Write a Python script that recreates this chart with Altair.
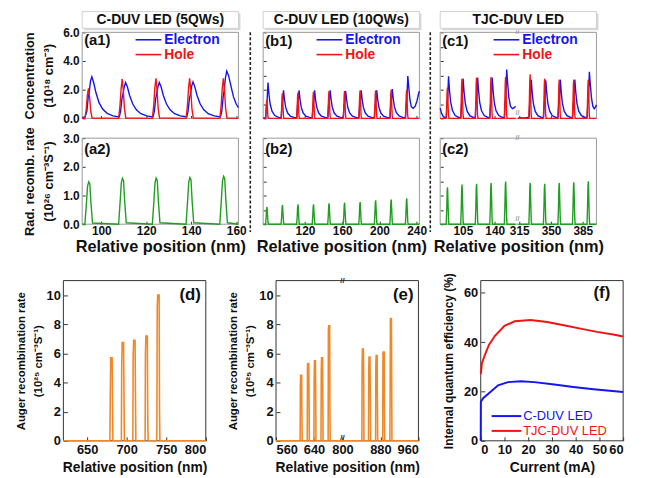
import altair as alt
import pandas as pd

FONT = "Liberation Sans"
BLUE = "#1414F2"
RED = "#F21414"
GREEN = "#1F9E1F"
ORANGE = "#F0882A"
FRAME_TOP = "#9a9a9a"
FRAME_BOT = "#333333"

# ---------------- (a) C-DUV LED, 5 QWs ----------------
A1_E_X = [91.5, 92.8, 93.6, 94.2, 94.6, 95.2, 95.8, 96.6, 97.6, 99.0, 100.6, 102.6, 105.2, 108.0,
          108.6, 109.2, 109.6, 110.2, 110.8, 111.6, 112.6, 114.0, 115.6, 117.6, 120.2, 123.0,
          123.6, 124.2, 124.6, 125.2, 125.8, 126.6, 127.6, 129.0, 130.6, 132.6, 135.2, 138.0,
          138.6, 139.2, 139.6, 140.2, 140.8, 141.6, 142.6, 144.0, 145.6, 147.6, 150.2, 153.0,
          153.6, 154.2, 154.6, 155.2, 155.8, 156.6, 157.6, 158.8, 160.0, 161.0]
A1_E_Y = [0.05, 0.1, 0.5, 1.5, 1.8, 2.6, 2.9, 2.5, 1.8, 1.1, 0.65, 0.35, 0.17, 0.1,
          0.5, 1.4, 1.65, 2.2, 2.5, 2.2, 1.6, 1.0, 0.6, 0.33, 0.17, 0.1,
          0.5, 1.4, 1.65, 2.2, 2.5, 2.2, 1.6, 1.0, 0.6, 0.33, 0.17, 0.1,
          0.5, 1.4, 1.65, 2.25, 2.55, 2.2, 1.6, 1.0, 0.6, 0.33, 0.17, 0.1,
          0.5, 1.5, 1.9, 2.8, 3.3, 3.0, 2.3, 1.5, 1.0, 0.75]
A1_H_X = [91.5, 92.7, 93.3, 93.8, 94.3, 94.8, 95.3, 95.9,
          107.7, 108.3, 108.8, 109.3, 109.8, 110.3, 110.9,
          122.7, 123.3, 123.8, 124.3, 124.8, 125.3, 125.9,
          137.7, 138.3, 138.8, 139.3, 139.8, 140.3, 140.9,
          152.7, 153.3, 153.8, 154.3, 154.8, 155.3, 155.9, 161.0]
A1_H_Y = [0, 0, 0.65, 1.6, 2.1, 1.5, 0.5, 0.03,
          0, 0.85, 2.05, 2.75, 1.95, 0.7, 0.03,
          0, 0.85, 2.1, 2.8, 2.0, 0.7, 0.03,
          0, 0.85, 2.1, 2.8, 2.0, 0.7, 0.03,
          0, 0.85, 2.1, 2.8, 2.0, 0.7, 0.03, 0]
A2_R_X = [91.5, 92.7, 93.4, 93.9, 94.4, 94.9, 95.4, 96.1,
          107.7, 108.4, 108.9, 109.4, 109.9, 110.4, 111.1,
          122.7, 123.4, 123.9, 124.4, 124.9, 125.4, 126.1,
          137.7, 138.4, 138.9, 139.4, 139.9, 140.4, 141.1,
          152.7, 153.4, 153.9, 154.4, 154.9, 155.4, 156.1, 161.0]
A2_R_Y = [0, 0, 0.74, 1.33, 1.48, 1.41, 0.74, 0.04,
          0, 0.8, 1.44, 1.6, 1.52, 0.8, 0.05,
          0, 0.8, 1.45, 1.61, 1.53, 0.8, 0.05,
          0, 0.82, 1.47, 1.63, 1.55, 0.82, 0.05,
          0, 0.84, 1.5, 1.67, 1.59, 0.84, 0.05, 0]
A_DOM = [91.5, 161.0]
A_TICKS = [100, 120, 140, 160]

# ---------------- (b) C-DUV LED, 10 QWs ----------------
B1_E_X = [75, 77.8, 78.5, 79.2, 80.2, 81.2, 82.5, 84.5, 87.5, 92,
          94.5, 95.2, 95.9, 96.9, 97.9, 99.2, 101.2, 104.2, 108.7,
          111.2, 111.9, 112.6, 113.6, 114.6, 115.9, 117.9, 120.9, 125.4,
          127.9, 128.6, 129.3, 130.3, 131.3, 132.6, 134.6, 137.6, 142.1,
          144.6, 145.3, 146.0, 147.0, 148.0, 149.3, 151.3, 154.3, 158.8,
          161.3, 162.0, 162.7, 163.7, 164.7, 166.0, 168.0, 171.0, 175.5,
          178.0, 178.7, 179.4, 180.4, 181.4, 182.7, 184.7, 187.7, 192.2,
          194.7, 195.4, 196.1, 197.1, 198.1, 199.4, 201.4, 204.4, 208.9,
          211.4, 212.1, 212.8, 213.8, 214.8, 216.1, 218.1, 221.1, 225.6,
          228.1, 228.8, 229.5, 230.5, 231.5, 232.8, 234.3, 236.3, 238.5, 240.5, 242.2, 243.0]
B1_E_Y = [0.02, 0.05, 0.9, 1.2, 2.5, 1.7, 1.0, 0.5, 0.2, 0.05,
          0.05, 0.9, 1.15, 1.95, 1.33, 0.78, 0.39, 0.16, 0.05,
          0.05, 0.9, 1.15, 1.95, 1.33, 0.78, 0.39, 0.16, 0.05,
          0.05, 0.9, 1.15, 1.95, 1.33, 0.78, 0.39, 0.16, 0.05,
          0.05, 0.9, 1.15, 1.95, 1.33, 0.78, 0.39, 0.16, 0.05,
          0.05, 0.9, 1.15, 1.9, 1.3, 0.76, 0.38, 0.16, 0.05,
          0.05, 0.9, 1.15, 1.95, 1.33, 0.78, 0.39, 0.16, 0.05,
          0.05, 0.9, 1.15, 1.95, 1.33, 0.78, 0.39, 0.16, 0.05,
          0.05, 0.95, 1.2, 2.05, 1.4, 0.82, 0.41, 0.17, 0.05,
          0.05, 1.0, 1.3, 2.95, 2.2, 1.3, 0.8, 0.7, 0.85, 1.25, 1.75, 1.9]
B1_H_X = [75, 77.5, 78.1, 78.6, 79.0, 79.5, 80.1, 80.6,
          94.2, 94.8, 95.3, 95.7, 96.2, 96.8, 97.3,
          110.9, 111.5, 112.0, 112.4, 112.9, 113.5, 114.0,
          127.6, 128.2, 128.7, 129.1, 129.6, 130.2, 130.7,
          144.3, 144.9, 145.4, 145.8, 146.3, 146.9, 147.4,
          161.0, 161.6, 162.1, 162.5, 163.0, 163.6, 164.1,
          177.7, 178.3, 178.8, 179.2, 179.7, 180.3, 180.8,
          194.4, 195.0, 195.5, 195.9, 196.4, 197.0, 197.5,
          211.1, 211.7, 212.2, 212.6, 213.1, 213.7, 214.2,
          227.8, 228.4, 228.9, 229.3, 229.8, 230.4, 230.9, 243.0]
B1_H_Y = [0, 0, 0.45, 1.1, 1.3, 0.8, 0.13, 0,
          0, 0.6, 1.5, 1.75, 1.05, 0.18, 0,
          0, 0.63, 1.53, 1.8, 1.08, 0.18, 0,
          0, 0.65, 1.57, 1.85, 1.1, 0.19, 0,
          0, 0.66, 1.6, 1.9, 1.14, 0.19, 0,
          0, 0.66, 1.6, 1.9, 1.14, 0.19, 0,
          0, 0.68, 1.65, 1.95, 1.17, 0.2, 0,
          0, 0.68, 1.65, 1.95, 1.17, 0.2, 0,
          0, 0.7, 1.7, 2.0, 1.2, 0.2, 0,
          0, 0.7, 1.7, 2.0, 1.2, 0.2, 0, 0]
B2_R_X = [75, 77.6, 78.2, 78.7, 79.1, 79.6, 80.2, 80.6,
          94.3, 94.9, 95.4, 95.8, 96.3, 96.9, 97.3,
          111.0, 111.6, 112.1, 112.5, 113.0, 113.6, 114.0,
          127.7, 128.3, 128.8, 129.2, 129.7, 130.3, 130.7,
          144.4, 145.0, 145.5, 145.9, 146.4, 147.0, 147.4,
          161.1, 161.7, 162.2, 162.6, 163.1, 163.7, 164.1,
          177.8, 178.4, 178.9, 179.3, 179.8, 180.4, 180.8,
          194.5, 195.1, 195.6, 196.0, 196.5, 197.1, 197.5,
          211.2, 211.8, 212.3, 212.7, 213.2, 213.8, 214.2,
          227.9, 228.5, 229.0, 229.4, 229.9, 230.5, 230.9, 243.0]
B2_R_Y = [0, 0, 0.24, 0.54, 0.6, 0.36, 0.06, 0,
          0, 0.27, 0.6, 0.67, 0.4, 0.07, 0,
          0, 0.28, 0.62, 0.69, 0.41, 0.07, 0,
          0, 0.28, 0.62, 0.69, 0.41, 0.07, 0,
          0, 0.29, 0.66, 0.73, 0.44, 0.07, 0,
          0, 0.3, 0.68, 0.75, 0.45, 0.08, 0,
          0, 0.31, 0.69, 0.77, 0.46, 0.08, 0,
          0, 0.33, 0.75, 0.83, 0.5, 0.08, 0,
          0, 0.34, 0.77, 0.86, 0.52, 0.09, 0,
          0, 0.36, 0.81, 0.9, 0.54, 0.09, 0, 0]
B_DOM = [75, 243]
B_TICKS = [120, 160, 200, 240]

# ---------------- (c) TJC-DUV LED (broken axis) ----------------
C1_E_X = [80, 81.5, 83.5, 85.5,
          86.8, 87.5, 88.2, 89.2, 90.2, 91.5, 93.5, 96.5, 101,
          102.8, 103.5, 104.2, 105.2, 106.2, 107.5, 109.5, 112.5, 117,
          118.8, 119.5, 120.2, 121.2, 122.2, 123.5, 125.5, 128.5, 133,
          134.8, 135.5, 136.2, 137.2, 138.2, 139.5, 141.5, 144.5, 149,
          150.8, 151.5, 152.2, 153.2, 154.2, 155.5, 157.3, 159.5, 161.5, 163,
          314, 322,
          325.8, 326.5, 327.2, 328.2, 329.2, 330.5, 332.5, 335.5, 340,
          341.8, 342.5, 343.2, 344.2, 345.2, 346.5, 348.5, 351.5, 356,
          357.8, 358.5, 359.2, 360.2, 361.2, 362.5, 364.5, 367.5, 372,
          373.8, 374.5, 375.2, 376.2, 377.2, 378.5, 380.5, 383.5, 388,
          389.8, 390.5, 391.2, 392.2, 393.2, 394.5, 396, 397.5, 399, 400]
C1_E_Y = [0.72, 0.35, 0.12, 0.05,
          0.08, 1.0, 1.3, 2.93, 2.0, 1.15, 0.55, 0.2, 0.05,
          0.08, 1.0, 1.3, 2.77, 1.9, 1.1, 0.52, 0.19, 0.05,
          0.08, 1.0, 1.3, 2.84, 1.95, 1.12, 0.53, 0.2, 0.05,
          0.08, 1.0, 1.3, 2.84, 1.95, 1.12, 0.53, 0.2, 0.05,
          0.08, 1.1, 1.4, 3.4, 2.5, 1.5, 0.85, 0.68, 0.75, 0.85,
          0.03, 0.03,
          0.08, 1.0, 1.25, 2.7, 1.85, 1.07, 0.5, 0.19, 0.05,
          0.08, 1.0, 1.25, 2.66, 1.82, 1.05, 0.5, 0.18, 0.05,
          0.08, 1.0, 1.25, 2.7, 1.85, 1.07, 0.5, 0.19, 0.05,
          0.08, 1.0, 1.25, 2.7, 1.85, 1.07, 0.5, 0.19, 0.05,
          0.08, 1.1, 1.35, 3.25, 2.4, 1.45, 0.85, 0.68, 0.8, 0.95]
C1_H_X = [80, 86.5, 87.1, 87.6, 88.0, 88.5, 89.1, 89.6,
          102.5, 103.1, 103.6, 104.0, 104.5, 105.1, 105.6,
          118.5, 119.1, 119.6, 120.0, 120.5, 121.1, 121.6,
          134.5, 135.1, 135.6, 136.0, 136.5, 137.1, 137.6,
          150.5, 151.1, 151.6, 152.0, 152.5, 153.1, 153.6, 163,
          314, 325.5, 326.1, 326.6, 327.0, 327.5, 328.1, 328.6,
          341.5, 342.1, 342.6, 343.0, 343.5, 344.1, 344.6,
          357.5, 358.1, 358.6, 359.0, 359.5, 360.1, 360.6,
          373.5, 374.1, 374.6, 375.0, 375.5, 376.1, 376.6,
          389.5, 390.1, 390.6, 391.0, 391.5, 392.1, 392.6, 400]
C1_H_Y = [0, 0, 0.75, 1.83, 2.15, 1.29, 0.22, 0,
          0, 0.97, 2.35, 2.77, 1.66, 0.28, 0,
          0, 0.99, 2.41, 2.84, 1.7, 0.28, 0,
          0, 1.01, 2.46, 2.89, 1.73, 0.29, 0,
          0, 1.01, 2.46, 2.89, 1.73, 0.29, 0, 0,
          0, 0, 1.07, 2.61, 3.07, 1.84, 0.31, 0,
          0, 0.97, 2.35, 2.77, 1.66, 0.28, 0,
          0, 0.95, 2.3, 2.7, 1.62, 0.27, 0,
          0, 0.95, 2.3, 2.7, 1.62, 0.27, 0,
          0, 0.95, 2.3, 2.7, 1.62, 0.27, 0, 0]
C2_R_X = [80, 86.6, 87.2, 87.7, 88.1, 88.6, 89.2, 89.6,
          102.6, 103.2, 103.7, 104.1, 104.6, 105.2, 105.6,
          118.6, 119.2, 119.7, 120.1, 120.6, 121.2, 121.6,
          134.6, 135.2, 135.7, 136.1, 136.6, 137.2, 137.6,
          150.6, 151.2, 151.7, 152.1, 152.6, 153.2, 153.6, 163,
          314, 325.6, 326.2, 326.7, 327.1, 327.6, 328.2, 328.6,
          341.6, 342.2, 342.7, 343.1, 343.6, 344.2, 344.6,
          357.6, 358.2, 358.7, 359.1, 359.6, 360.2, 360.6,
          373.6, 374.2, 374.7, 375.1, 375.6, 376.2, 376.6,
          389.6, 390.2, 390.7, 391.1, 391.6, 392.2, 392.6, 400]
C2_R_Y = [0, 0, 0.52, 1.16, 1.29, 0.77, 0.13, 0,
          0, 0.55, 1.24, 1.38, 0.83, 0.14, 0,
          0, 0.56, 1.27, 1.41, 0.85, 0.14, 0,
          0, 0.58, 1.3, 1.44, 0.86, 0.14, 0,
          0, 0.6, 1.34, 1.49, 0.89, 0.15, 0, 0,
          0, 0, 0.58, 1.3, 1.44, 0.86, 0.14, 0,
          0, 0.56, 1.27, 1.41, 0.85, 0.14, 0,
          0, 0.58, 1.3, 1.44, 0.86, 0.14, 0,
          0, 0.58, 1.31, 1.46, 0.88, 0.15, 0,
          0, 0.6, 1.35, 1.5, 0.9, 0.15, 0, 0]
C_SPLIT = 250          # real positions above this lie right of the break
C_GAP = 148            # nm removed by the axis break
C_DOM = [80, 252]      # display domain
C_TICKS = [105, 140, 167, 202, 237]
C_BREAK = [165]

# ---------------- (d) Auger, C-DUV 5QWs ----------------
D_X = [620, 678.8, 679.2, 679.8, 681.6, 682.1, 682.6,
       693.3, 693.7, 694.3, 696.1, 696.6, 697.1,
       707.8, 708.2, 708.8, 710.6, 711.1, 711.6,
       723.3, 723.7, 724.3, 726.1, 726.6, 727.1,
       737.8, 738.2, 738.6, 739.2, 741.0, 741.5, 742.0, 800]
D_Y = [0, 0, 2.5, 5.7, 5.7, 2.7, 0,
       0, 5.0, 6.75, 6.75, 3.0, 0,
       0, 5.8, 6.9, 6.9, 3.0, 0,
       0, 6.0, 7.2, 7.2, 1.8, 0,
       0, 0.8, 9.2, 10.0, 10.0, 2.2, 0, 0]
D_DOM = [620, 800]
D_TICKS = [650, 700, 750, 800]

# ---------------- (e) Auger, C-DUV 10QWs (broken axis) ----------------
E_X = [560, 610.8, 611.3, 612.0, 614.0, 614.6, 615.2,
       625.8, 626.3, 627.0, 629.0, 629.6, 630.2,
       639.8, 640.3, 641.0, 643.0, 643.6, 644.2,
       654.8, 655.3, 656.0, 658.0, 658.6, 659.2,
       669.8, 670.3, 671.0, 673.0, 673.6, 674.2,
       840.8, 841.3, 842.0, 844.0, 844.6, 845.2,
       854.8, 855.3, 856.0, 858.0, 858.6, 859.2,
       869.8, 870.3, 871.0, 873.0, 873.6, 874.2,
       884.8, 885.3, 886.0, 888.0, 888.6, 889.2,
       899.8, 900.3, 901.0, 903.0, 903.6, 904.2, 960]
E_Y = [0, 0, 3.8, 4.5, 4.5, 1.7, 0,
       0, 5.2, 5.3, 5.3, 3.0, 0,
       0, 4.0, 5.5, 5.5, 3.6, 0,
       0, 4.8, 5.7, 5.7, 3.0, 0,
       0, 7.6, 7.9, 7.9, 1.8, 0,
       0, 5.0, 6.3, 6.3, 4.7, 0,
       0, 4.8, 5.75, 5.75, 3.0, 0,
       0, 5.3, 5.85, 5.85, 2.5, 0,
       0, 6.0, 6.1, 6.1, 0.7, 0,
       0, 2.8, 8.4, 8.4, 5.2, 0, 0]
E_SPLIT = 760
E_GAP = 100
E_DOM = [560, 860]
E_TICKS = [560, 640, 700, 780, 860]
E_BREAK = [700]

# ---------------- (f) IQE vs current ----------------
F_C_X = [0, 0.05, 1.0, 3.2, 7.3, 11.5, 17, 22.6, 31, 39, 47.5, 60]
F_C_Y = [0, 15.8, 17.3, 19.1, 22.5, 23.8, 24.2, 23.8, 22.8, 21.8, 20.9, 19.8]
F_T_X = [0.05, 0.5, 1.8, 3.5, 6, 10, 14.3, 21, 28, 35, 42, 49, 55.8, 60]
F_T_Y = [27, 31.5, 35, 39, 42.6, 46.6, 48.5, 49, 48.2, 46.9, 45.5, 44.2, 43.1, 42.3]

# ---------------- layout (page pixels: left, top, right, bottom) ----------------
ORG = 8                 # page margin
CW, CH = 636, 470       # drawing size
A1 = (83, 30, 241, 117)
A2 = (83, 137, 241, 224)
B1 = (266, 30, 424, 117)
B2 = (266, 137, 424, 224)
C1 = (445, 30, 603, 117)
C2 = (445, 137, 603, 224)
D = (64, 281, 208, 443)
E = (279, 281, 423, 443)
F = (486, 281, 630, 443)
SEPARATORS = [(253, 30, 232), (435, 30, 232)]

ONE = pd.DataFrame({"k": [0]})


def P(v):
    return v - ORG


def xy(xs, ys):
    assert len(xs) == len(ys), (len(xs), len(ys))
    return pd.DataFrame({"x": xs, "y": ys})


def axis(**kw):
    base = dict(grid=False, domain=False, tickColor="#333",
                labelFont=FONT, labelFontWeight="bold", labelFontSize=12, labelColor="#111",
                labelPadding=3, titleFont=FONT, titleFontWeight="bold", titleColor="#111")
    base.update(kw)
    return alt.Axis(**base)


def xaxis(b, tick, **kw):
    # bottom axis moved up onto the panel's lower edge; ticks point inwards
    return axis(orient="bottom", offset=(P(b[3]) - tick) - CH, tickSize=tick, **kw)


def yaxis(b, tick, **kw):
    return axis(orient="left", offset=-(P(b[0]) + tick), tickSize=tick, **kw)


def xscale(b, dom):
    return alt.Scale(domain=dom, range=[P(b[0]), P(b[2])], nice=False, zero=False)


def yscale(b, dom):
    return alt.Scale(domain=dom, range=[P(b[3]), P(b[1])], nice=False, zero=False)


def text(t, x, y, size, color="#111", align="left", weight="bold"):
    return alt.Chart(ONE).mark_text(text=t, font=FONT, fontSize=size, fontWeight=weight,
                                    color=color, align=align, baseline="middle").encode(
        x=alt.value(P(x)), y=alt.value(P(y)))


def hline(x1, x2, y, color, width=1.6):
    return alt.Chart(ONE).mark_rule(color=color, strokeWidth=width).encode(
        x=alt.value(P(x1)), x2=alt.value(P(x2)), y=alt.value(P(y)))


def rect(x1, y1, x2, y2, **kw):
    return alt.Chart(ONE).mark_rect(**kw).encode(
        x=alt.value(P(x1)), x2=alt.value(P(x2)), y=alt.value(P(y1)), y2=alt.value(P(y2)))


def frame(b, color):
    return rect(b[0], b[1], b[2], b[3], fill="transparent", stroke=color, strokeWidth=1)


def header(t, b):
    x0, y0, x1, _ = b
    return [rect(x0 + 2, y0 - 19, x1 + 2, y0 - 2, color="#d6d6d6"),
            rect(x0, y0 - 21, x1, y0 - 4, fill="white", stroke="#d0d0d0", strokeWidth=1),
            text(t, (x0 + x1) / 2, y0 - 12.5, 14, align="center")]


def legend_top(b):
    x0, y0 = b[0], b[1]
    return [hline(x0 + 54, x0 + 80, y0 + 7.5, BLUE), hline(x0 + 54, x0 + 80, y0 + 22.5, RED),
            text("Electron", x0 + 83, y0 + 7.5, 14, BLUE), text("Hole", x0 + 83, y0 + 22.5, 14, RED)]


def break_marks(b, dom, vals, color, size, lift=0):
    out = []
    for yv in (b[1], b[3] - lift):
        out.append(alt.Chart(pd.DataFrame({"x": vals})).mark_text(
            text="//", font=FONT, fontSize=size, color=color, fontWeight="bold",
            baseline="middle", align="center").encode(
            x=alt.X("x:Q", scale=xscale(b, dom), axis=None), y=alt.value(P(yv))))
    return out


def line_layer(df, color, b, xdom, ydom, xax, yax, width=1.4, split=None, gap=None, seg=False):
    ch = alt.Chart(df)
    field = "x"
    extra = {}
    if split is not None:
        field = "xd"
        ch = ch.transform_calculate(xd=f"datum.x > {split} ? datum.x - {gap} : datum.x",
                                    seg=f"datum.x > {split} ? 'R' : 'L'")
        if seg:
            extra["detail"] = "seg:N"
    return ch.mark_line(color=color, strokeWidth=width).encode(
        x=alt.X(f"{field}:Q", scale=xscale(b, xdom), axis=xax),
        y=alt.Y("y:Q", scale=yscale(b, ydom), axis=yax), **extra)


def top_panel(b, series, xdom, xticks, show_x, ydom, yticks, ytitle, tag, tag_dy,
              broken=False, label_expr=None):
    xkw = dict(values=xticks, labels=show_x, labelFontSize=12, labelPadding=1,
               title="Relative position (nm)" if show_x else None,
               titleFontSize=16.5, titlePadding=3)
    if label_expr:
        xkw["labelExpr"] = label_expr
    ykw = dict(values=yticks, labels=ytitle is not None, format=".1f", title=ytitle,
               titleFontSize=13, titleLineHeight=20, titlePadding=7, labelPadding=3)
    xax, yax = xaxis(b, 3, **xkw), yaxis(b, 3, **ykw)
    layers = [frame(b, FRAME_TOP)]
    for i, (df, color) in enumerate(series):
        kw = dict(split=C_SPLIT, gap=C_GAP, seg=True) if broken else {}
        layers.append(line_layer(df, color, b, xdom, ydom,
                                 xax if i == 0 else None, yax if i == 0 else None, **kw))
    layers.append(text(tag, b[0] + 2, b[1] + tag_dy, 15))
    if broken:
        layers += break_marks(b, xdom, C_BREAK, "#999", 7, lift=5)
    return layers


CONC_TITLE = ["Concentration", "(10¹⁸ cm⁻³)"]
RAD_TITLE = ["Rad. recomb. rate", "(10²⁶ cm⁻³S⁻¹)"]
C_LABELS = f"datum.value < 165 ? format(datum.value, 'd') : format(datum.value + {C_GAP}, 'd')"

layers = []
layers += top_panel(A1, [(xy(A1_E_X, A1_E_Y), BLUE), (xy(A1_H_X, A1_H_Y), RED)], A_DOM, A_TICKS,
                    False, [0, 6], [0, 2, 4, 6], CONC_TITLE, "(a1)", 8)
layers += top_panel(A2, [(xy(A2_R_X, A2_R_Y), GREEN)], A_DOM, A_TICKS, True,
                    [0, 3], [0, 1, 2, 3], RAD_TITLE, "(a2)", 11)
layers += top_panel(B1, [(xy(B1_E_X, B1_E_Y), BLUE), (xy(B1_H_X, B1_H_Y), RED)], B_DOM, B_TICKS,
                    False, [0, 6], [0, 1, 2, 3, 4, 5, 6], None, "(b1)", 9)
layers += top_panel(B2, [(xy(B2_R_X, B2_R_Y), GREEN)], B_DOM, B_TICKS, True,
                    [0, 3], [0, 0.5, 1, 1.5, 2, 2.5, 3], None, "(b2)", 11)
layers += top_panel(C1, [(xy(C1_E_X, C1_E_Y), BLUE), (xy(C1_H_X, C1_H_Y), RED)], C_DOM, C_TICKS,
                    False, [0, 6], [0, 1, 2, 3, 4, 5, 6], None, "(c1)", 9,
                    broken=True, label_expr=C_LABELS)
layers += top_panel(C2, [(xy(C2_R_X, C2_R_Y), GREEN)], C_DOM, C_TICKS, True,
                    [0, 3], [0, 0.5, 1, 1.5, 2, 2.5, 3], None, "(c2)", 11,
                    broken=True, label_expr=C_LABELS)
for b, t in ((A1, "C-DUV LED (5QWs)"), (B1, "C-DUV LED (10QWs)"), (C1, "TJC-DUV LED")):
    layers += header(t, b) + legend_top(b)
for x, y1, y2 in SEPARATORS:
    layers.append(alt.Chart(ONE).mark_rule(color="#222", strokeWidth=1.6, strokeDash=[3, 2]).encode(
        x=alt.value(P(x)), y=alt.value(P(y1)), y2=alt.value(P(y2))))

AUGER_TITLE = ["Auger recombination rate", "(10²⁵ cm⁻³S⁻¹)"]


def bottom_axes(b, ticks, yticks, ytitle, xtitle, label_expr=None, ytitle_size=11.5, ylh=17, ypad=3):
    xkw = dict(values=ticks, title=xtitle, labelFontSize=13, titleFontSize=14,
               titlePadding=4, labelPadding=3)
    if label_expr:
        xkw["labelExpr"] = label_expr
    return (xaxis(b, 4, **xkw),
            yaxis(b, 4, values=yticks, title=ytitle, labelFontSize=13, titleFontSize=ytitle_size,
                  titleLineHeight=ylh, titlePadding=ypad))


# (d)
xa, ya = bottom_axes(D, D_TICKS, [0, 2, 4, 6, 8, 10], AUGER_TITLE, "Relative position (nm)")
layers += [frame(D, FRAME_BOT),
           line_layer(xy(D_X, D_Y), ORANGE, D, D_DOM, [0, 11], xa, ya, width=1.6),
           text("(d)", D[2] - 5, D[1] + 15, 17, align="right")]

# (e)
E_LABELS = f"datum.value < 690 ? format(datum.value, 'd') : format(datum.value + {E_GAP}, 'd')"
xa, ya = bottom_axes(E, E_TICKS, [0, 2, 4, 6, 8, 10], AUGER_TITLE, "Relative position (nm)",
                     label_expr=E_LABELS)
layers += [frame(E, FRAME_BOT),
           line_layer(xy(E_X, E_Y), ORANGE, E, E_DOM, [0, 11], xa, ya, width=1.6,
                      split=E_SPLIT, gap=E_GAP),
           text("(e)", E[2] - 5, E[1] + 15, 17, align="right")]
layers += break_marks(E, E_DOM, E_BREAK, "#222", 8, lift=3)

# (f)
xa, ya = bottom_axes(F, [0, 10, 20, 30, 40, 50, 60], [0, 20, 40, 60],
                     "Internal quantum efficiency (%)", "Current (mA)", ytitle_size=12, ypad=8)
layers += [frame(F, FRAME_BOT),
           line_layer(xy(F_C_X, F_C_Y), BLUE, F, [0, 60], [0, 65], xa, ya, width=2),
           line_layer(xy(F_T_X, F_T_Y), RED, F, [0, 60], [0, 65], None, None, width=2),
           text("(f)", F[2] - 13, F[1] + 13, 17, align="right"),
           hline(F[0] + 11, F[0] + 41, F[1] + 137, BLUE, 2),
           hline(F[0] + 11, F[0] + 41, F[1] + 152, RED, 2),
           text("C-DUV LED", F[0] + 43, F[1] + 137, 13, BLUE, weight="normal"),
           text("TJC-DUV LED", F[0] + 43, F[1] + 152, 13, RED, weight="normal")]

chart = alt.layer(*layers).resolve_scale(x="independent", y="independent").properties(
    width=CW, height=CH, padding=0,
    autosize=alt.AutoSizeParams(type="none"),
    view=alt.ViewBackground(stroke="transparent"),
).configure(font=FONT)

chart.save("out.html", embed_options={"renderer": "svg", "actions": False})
